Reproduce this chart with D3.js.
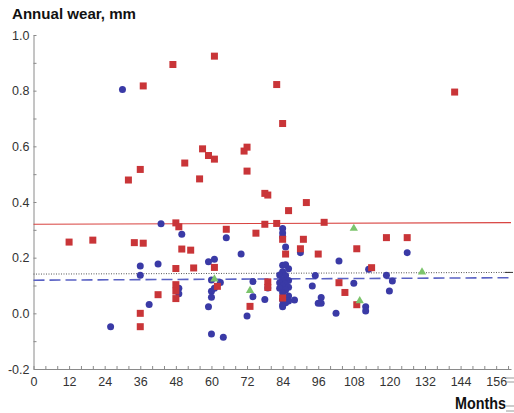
<!DOCTYPE html>
<html>
<head>
<meta charset="utf-8">
<script src="https://cdn.jsdelivr.net/npm/d3@7"></script>
<style>
  html, body { margin: 0; padding: 0; background: #fff; }
  svg { display: block; font-family: "Liberation Sans", Arial, sans-serif; }
</style>
</head>
<body>
<div id="chart"></div>
<script>
// annual wear (mm) against follow-up (months)
var redPoints = [
  [12,0.256],[20,0.263],[32,0.479],[34,0.254],[36,0.517],[36,0.0],[36,-0.048],
  [37,0.817],[37,0.252],[42,0.067],[47,0.894],[48,0.325],[48,0.161],[48,0.103],
  [48,0.080],[48,0.053],[49,0.311],[50,0.231],[51,0.540],[53,0.227],[54,0.163],
  [56,0.483],[57,0.591],[59,0.567],[61,0.924],[61,0.554],[61,0.165],[62,0.097],
  [65,0.302],[71,0.583],[72,0.597],[72,0.511],[73,0.025],[75,0.288],[78,0.431],
  [79,0.425],[78,0.320],[79,0.113],[79,0.093],[82,0.822],[82,0.323],[84,0.682],
  [84,0.266],[84,0.055],[85,0.213],[86,0.369],[90,0.232],[91,0.266],[92,0.398],
  [96,0.213],[98,0.327],[103,0.110],[105,0.075],[109,0.232],[109,0.031],
  [114,0.164],[119,0.272],[126,0.272],[142,0.795]
];
var bluePoints = [
  [26,-0.048],[30,0.804],[36,0.170],[36,0.137],[39,0.032],[42,0.177],[43,0.322],
  [49,0.090],[49,0.070],[50,0.284],[59,0.185],[59,0.024],[60,0.120],[60,0.079],
  [60,0.058],[60,-0.074],[61,0.194],[61,0.090],[63,0.111],[64,-0.086],[65,0.272],
  [70,0.213],[72,-0.010],[74,0.114],[74,0.060],[78,0.050],[79,0.091],
  [84,0.305],[84,0.289],[84,0.275],[85,0.238],[84,0.173],[85,0.175],[86,0.160],
  [84,0.149],[83,0.138],[85,0.136],[84,0.120],[86,0.118],[83,0.110],[85,0.106],
  [84,0.098],[86,0.094],[83,0.090],[85,0.084],[84,0.074],[86,0.062],[84,0.048],
  [86,0.044],[84,0.030],[85,0.038],[84,0.024],
  [88,0.048],[90,0.218],[94,0.098],[95,0.136],[96,0.036],[97,0.057],[97,0.036],
  [102,0.0],[103,0.188],[108,0.108],[112,0.024],[112,0.008],[113,0.158],
  [119,0.137],[120,0.080],[121,0.116],[126,0.218]
];
var greenPoints = [[61,0.123],[73,0.082],[108,0.305],[110,0.045],[131,0.148]];

// fitted / mean lines, [start, end]
var redLine = [[0,0.320],[161,0.326]];
var dottedLine = [[0,0.141],[161,0.147]];
var blueLine = [[0,0.119],[161,0.128]];

var xTicks = d3.range(0, 161, 4);
var xLabels = [0,12,24,36,48,60,72,84,96,108,120,132,144,156];
var yTicks = [-0.2,-0.1,0,0.1,0.2,0.3,0.4,0.5,0.6,0.7,0.8,0.9,1.0];
var yLabels = ["-0.2","0.0","0.2","0.4","0.6","0.8","1.0"];

var W = 514, H = 413;
var svg = d3.select("#chart").append("svg").attr("width", W).attr("height", H);

var x = d3.scaleLinear().domain([0, 161]).range([33.5, 511]);
var y = d3.scaleLinear().domain([-0.2, 1.0]).range([369, 35]);

// axes, ticks point inward
var xAxis = d3.axisBottom(x).tickValues(xTicks).tickSizeInner(-3).tickSizeOuter(0).tickPadding(8)
  .tickFormat(function(d) { return xLabels.indexOf(d) >= 0 ? d : ""; });
var yAxis = d3.axisLeft(y).tickValues(yTicks).tickSizeInner(-3).tickSizeOuter(0).tickPadding(4)
  .tickFormat(function(d) { var s = d.toFixed(1); return yLabels.indexOf(s) >= 0 ? s : ""; });

var gx = svg.append("g").attr("transform", "translate(0," + y(-0.2) + ")").call(xAxis);
var gy = svg.append("g").attr("transform", "translate(" + x(0) + ",0)").call(yAxis);
[gx, gy].forEach(function(g) {
  g.select(".domain").attr("stroke", "#8a8a8a");
  g.selectAll(".tick line").attr("stroke", "#8a8a8a");
  g.selectAll(".tick text").attr("fill", "#333").style("font-size", "12.5px")
    .style("font-family", "'Liberation Sans', Arial, sans-serif");
});

// lines
var line = d3.line().x(function(d) { return x(d[0]); }).y(function(d) { return y(d[1]); });
svg.append("path").datum(redLine).attr("d", line).attr("fill", "none")
  .attr("stroke", "#d8423f").attr("stroke-width", 1.1);
svg.append("path").datum(dottedLine).attr("d", line).attr("fill", "none")
  .attr("stroke", "#555").attr("stroke-width", 1).attr("stroke-dasharray", "1,1.5");
svg.append("path").datum(blueLine).attr("d", line).attr("fill", "none")
  .attr("stroke", "#5a62c4").attr("stroke-width", 1.6).attr("stroke-dasharray", "11,5");

// markers
svg.append("g").selectAll("circle").data(bluePoints).enter().append("circle")
  .attr("cx", function(d) { return x(d[0]); })
  .attr("cy", function(d) { return y(d[1]); })
  .attr("r", 3.5).attr("fill", "#3a3aa6");

svg.append("g").selectAll("rect").data(redPoints).enter().append("rect")
  .attr("x", function(d) { return x(d[0]) - 3.5; })
  .attr("y", function(d) { return y(d[1]) - 3.5; })
  .attr("width", 7).attr("height", 7).attr("fill", "#c93538");

var tri = d3.symbol().type(d3.symbolTriangle).size(30);
svg.append("g").selectAll("path").data(greenPoints).enter().append("path")
  .attr("transform", function(d) { return "translate(" + x(d[0]) + "," + y(d[1]) + ")"; })
  .attr("d", tri).attr("fill", "#7cc46c");

// titles
svg.append("text").attr("x", 12).attr("y", 18.5).text("Annual wear, mm")
  .attr("textLength", 124).attr("lengthAdjust", "spacingAndGlyphs")
  .attr("fill", "#111").style("font-size", "15.5px").style("font-weight", "bold");
svg.append("text").attr("x", 455).attr("y", 409).text("Months")
  .attr("textLength", 51).attr("lengthAdjust", "spacingAndGlyphs")
  .attr("fill", "#111").style("font-size", "16px").style("font-weight", "bold");

// small marks at the cropped right edge
svg.append("line").attr("x1", 505).attr("x2", 513).attr("y1", y(0.147)).attr("y2", y(0.147))
  .attr("stroke", "#333").attr("stroke-width", 1);
svg.append("line").attr("x1", 506).attr("x2", 514).attr("y1", 378).attr("y2", 378).attr("stroke", "#999");
svg.append("line").attr("x1", 506).attr("x2", 514).attr("y1", 382).attr("y2", 382).attr("stroke", "#999");
svg.append("line").attr("x1", 506).attr("x2", 514).attr("y1", 406).attr("y2", 406).attr("stroke", "#999");
svg.append("line").attr("x1", 506).attr("x2", 514).attr("y1", 411).attr("y2", 411).attr("stroke", "#999");
</script>
</body>
</html>
